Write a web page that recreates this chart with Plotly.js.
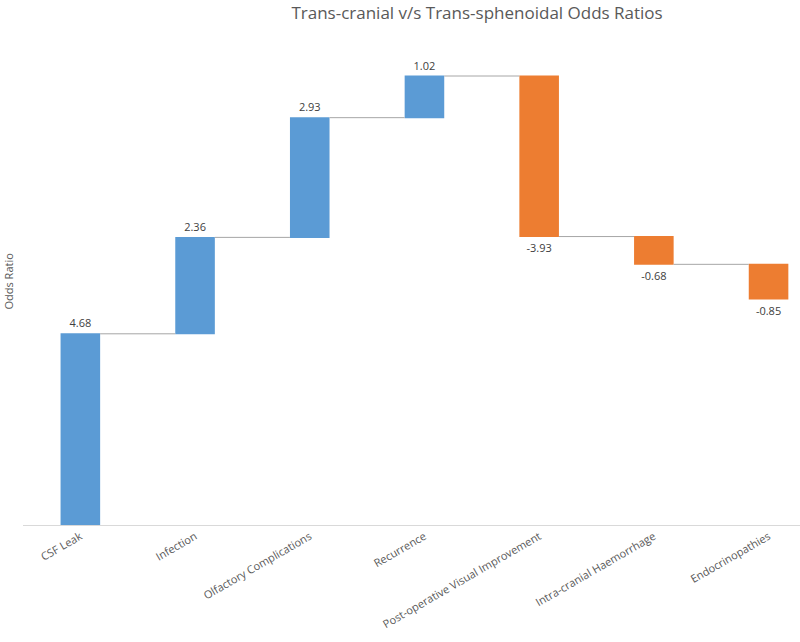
<!DOCTYPE html>
<html>
<head>
<meta charset="utf-8">
<script src="https://cdn.plot.ly/plotly-3.0.1.min.js"></script>
<style>html,body{margin:0;padding:0;background:#fff;}#chart{width:800px;height:642px;}</style>
</head>
<body>
<div id="chart"></div>
<script>
const categories = ["CSF Leak", "Infection", "Olfactory Complications", "Recurrence", "Post-operative Visual Improvement", "Intra-cranial Haemorrhage", "Endocrinopathies"];
const values = [4.68, 2.36, 2.93, 1.02, -3.93, -0.68, -0.85];
const labels = values.map(v => v.toFixed(2));

const L = 23, W = 800, H = 642, T = 38, B = 117;
const plotW = W - L;
const perCat = 114.7;
const xMax = -0.5 + plotW / perCat;

const trace = {
  type: "waterfall",
  x: categories,
  y: values,
  measure: values.map(() => "relative"),
  text: labels,
  textposition: "outside",
  textfont: {family: "Open Sans, Arial, sans-serif", size: 11, color: "#404040"},
  cliponaxis: false,
  width: 0.345,
  increasing: {marker: {color: "#5B9BD5", line: {width: 0}}},
  decreasing: {marker: {color: "#ED7D31", line: {width: 0}}},
  connector: {mode: "between", line: {color: "#A6A6A6", width: 1}},
  hoverinfo: "x+y"
};

const layout = {
  width: W, height: H,
  margin: {l: L, r: 0, t: T, b: B},
  paper_bgcolor: "#ffffff",
  plot_bgcolor: "#ffffff",
  showlegend: false,
  font: {family: "Open Sans, Arial, sans-serif", color: "#595959"},
  title: {
    text: "Trans-cranial v/s Trans-sphenoidal Odds Ratios",
    font: {family: "Open Sans, Arial, sans-serif", size: 17, color: "#595959"},
    x: 467.5 / W, xref: "paper", xanchor: "center",
    y: 1 - 13 / H, yanchor: "middle", yref: "container"
  },
  xaxis: {
    range: [-0.5, xMax],
    showgrid: false,
    zeroline: false,
    showline: true,
    linecolor: "#D9D9D9",
    linewidth: 1,
    ticks: "",
    tickangle: -30,
    tickfont: {family: "Open Sans, Arial, sans-serif", size: 11, color: "#595959"},
    automargin: false
  },
  yaxis: {
    range: [0, 11.92],
    showgrid: false,
    zeroline: false,
    showline: false,
    showticklabels: false,
    ticks: "",
    automargin: false
  },
  annotations: [{
    text: "Odds Ratio",
    xref: "paper", yref: "paper",
    x: (8 - L) / plotW, y: 0.5,
    xanchor: "center", yanchor: "middle",
    textangle: -90, showarrow: false,
    font: {family: "Open Sans, Arial, sans-serif", size: 11, color: "#595959"}
  }]
};

Plotly.newPlot("chart", [trace], layout, {displayModeBar: false, staticPlot: true});
</script>
</body>
</html>
